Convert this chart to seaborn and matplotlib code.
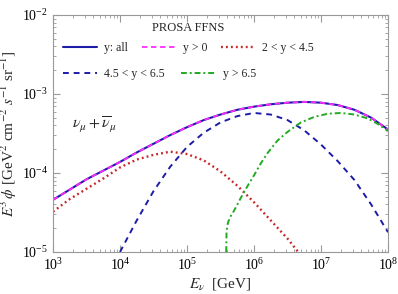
import numpy as np
import pandas as pd
import seaborn as sns
import matplotlib.pyplot as plt

# log10(E/GeV) and log10(E^3 phi)
all_logE = [3.0, 3.25, 3.5, 3.75, 4.0, 4.25, 4.5, 4.75, 5.0, 5.25, 5.5, 5.75, 6.0,
            6.25, 6.5, 6.75, 7.0, 7.25, 7.5, 7.75, 8.0]
all_logF = [-4.34, -4.21, -4.08, -3.97, -3.86, -3.74, -3.63, -3.52, -3.42, -3.33, -3.26,
            -3.20, -3.16, -3.13, -3.11, -3.10, -3.11, -3.14, -3.20, -3.30, -3.45]

low_logE = [3.0, 3.25, 3.5, 3.75, 4.0, 4.25, 4.5, 4.75, 5.0, 5.25, 5.5, 5.75, 6.0,
            6.25, 6.5, 6.66]
low_logF = [-4.49, -4.33, -4.20, -4.07, -3.93, -3.83, -3.77, -3.73, -3.76, -3.84, -3.98,
            -4.16, -4.37, -4.60, -4.83, -5.0]

mid_logE = [4.0, 4.25, 4.5, 4.75, 5.0, 5.25, 5.5, 5.75, 6.0, 6.25, 6.5, 6.75, 7.0,
            7.25, 7.5, 7.75, 8.0]
mid_logF = [-5.0, -4.6, -4.23, -3.92, -3.67, -3.49, -3.36, -3.28, -3.24, -3.26, -3.33,
            -3.46, -3.64, -3.85, -4.09, -4.40, -4.75]

high_logE = [5.585, 5.59, 5.61, 5.65, 5.7, 5.8, 5.9, 6.0, 6.1, 6.2, 6.35, 6.5, 6.7,
             6.9, 7.1, 7.3, 7.5, 7.7, 7.85, 8.0]
high_logF = [-5.0, -4.75, -4.63, -4.55, -4.48, -4.32, -4.17, -4.03, -3.88, -3.75, -3.59,
             -3.48, -3.36, -3.29, -3.25, -3.24, -3.26, -3.31, -3.38, -3.47]

labels = ["y: all", "y > 0", "2 < y < 4.5", "4.5 < y < 6.5", "y > 6.5"]

sns.set_style("ticks")
plt.rcParams['font.family'] = ['Liberation Serif', 'DejaVu Serif']
plt.rcParams['mathtext.fontset'] = 'stix'

fig, ax = plt.subplots(figsize=(3.98, 2.94), dpi=100)
fig.subplots_adjust(left=53/398, right=388/398, bottom=1-252/294, top=1-15/294)


def curve(logE, logF):
    return pd.DataFrame({"E": 10**np.array(logE), "F": 10**np.array(logF)})


d_all = curve(all_logE, all_logF)
sns.lineplot(data=d_all, x="E", y="F", ax=ax, color="#1c1ca8", lw=1.5, estimator=None)
sns.lineplot(data=d_all, x="E", y="F", ax=ax, color="#ff2bff", lw=1.3, estimator=None,
             linestyle=(0, (3, 2)))
sns.lineplot(data=curve(low_logE, low_logF), x="E", y="F", ax=ax, color="#c82828",
             lw=1.7, estimator=None, linestyle=(0, (0.8, 1.3)))
sns.lineplot(data=curve(mid_logE, mid_logF), x="E", y="F", ax=ax, color="#1c1ca8",
             lw=1.4, estimator=None, linestyle=(0, (3, 2.5)))
sns.lineplot(data=curve(high_logE, high_logF), x="E", y="F", ax=ax, color="#22aa22",
             lw=1.4, estimator=None, linestyle=(0, (3, 1.5, 1, 1.5)))

ax.set_xscale("log")
ax.set_yscale("log")
ax.set_xlim(1e3, 1e8)
ax.set_ylim(1e-5, 1e-2)

lines = ax.get_lines()

fig.text(188/398, 1-28/294, "PROSA FFNS", fontsize=9, ha="center", va="center")
leg1 = ax.legend(lines[:3], labels[:3], ncol=3, frameon=False,
                 loc="upper left", bbox_to_anchor=(57/398, 1-36/294),
                 bbox_transform=fig.transFigure, fontsize=8.5,
                 borderpad=0, handlelength=2.9, handletextpad=0.6, columnspacing=1.15)
ax.add_artist(leg1)
ax.legend(lines[3:], labels[3:], ncol=2, frameon=False,
          loc="upper left", bbox_to_anchor=(57/398, 1-62/294),
          bbox_transform=fig.transFigure, fontsize=8.5,
          borderpad=0, handlelength=2.9, handletextpad=0.6, columnspacing=1.4)

ax.text(0.057, 0.54, r'$\nu_\mu + \overline{\nu}_\mu$', transform=ax.transAxes,
        fontsize=11.5, va="center", ha="left")

ax.set_xlabel(r'$E_\nu$  [GeV]', fontsize=11, labelpad=2)
ax.set_ylabel(r'$E^3\,\phi$ [GeV$^2$ cm$^{-2}$ $s^{-1}$ sr$^{-1}$]', fontsize=11, labelpad=2)

ax.tick_params(which="both", direction="in", top=True, right=True, colors="#999999",
               labelcolor="black", labelsize=10)
ax.tick_params(which="major", length=5)
ax.tick_params(which="minor", length=2.5)
for s in ax.spines.values():
    s.set_color("#999999")

fig.savefig("out.png", dpi=100)
